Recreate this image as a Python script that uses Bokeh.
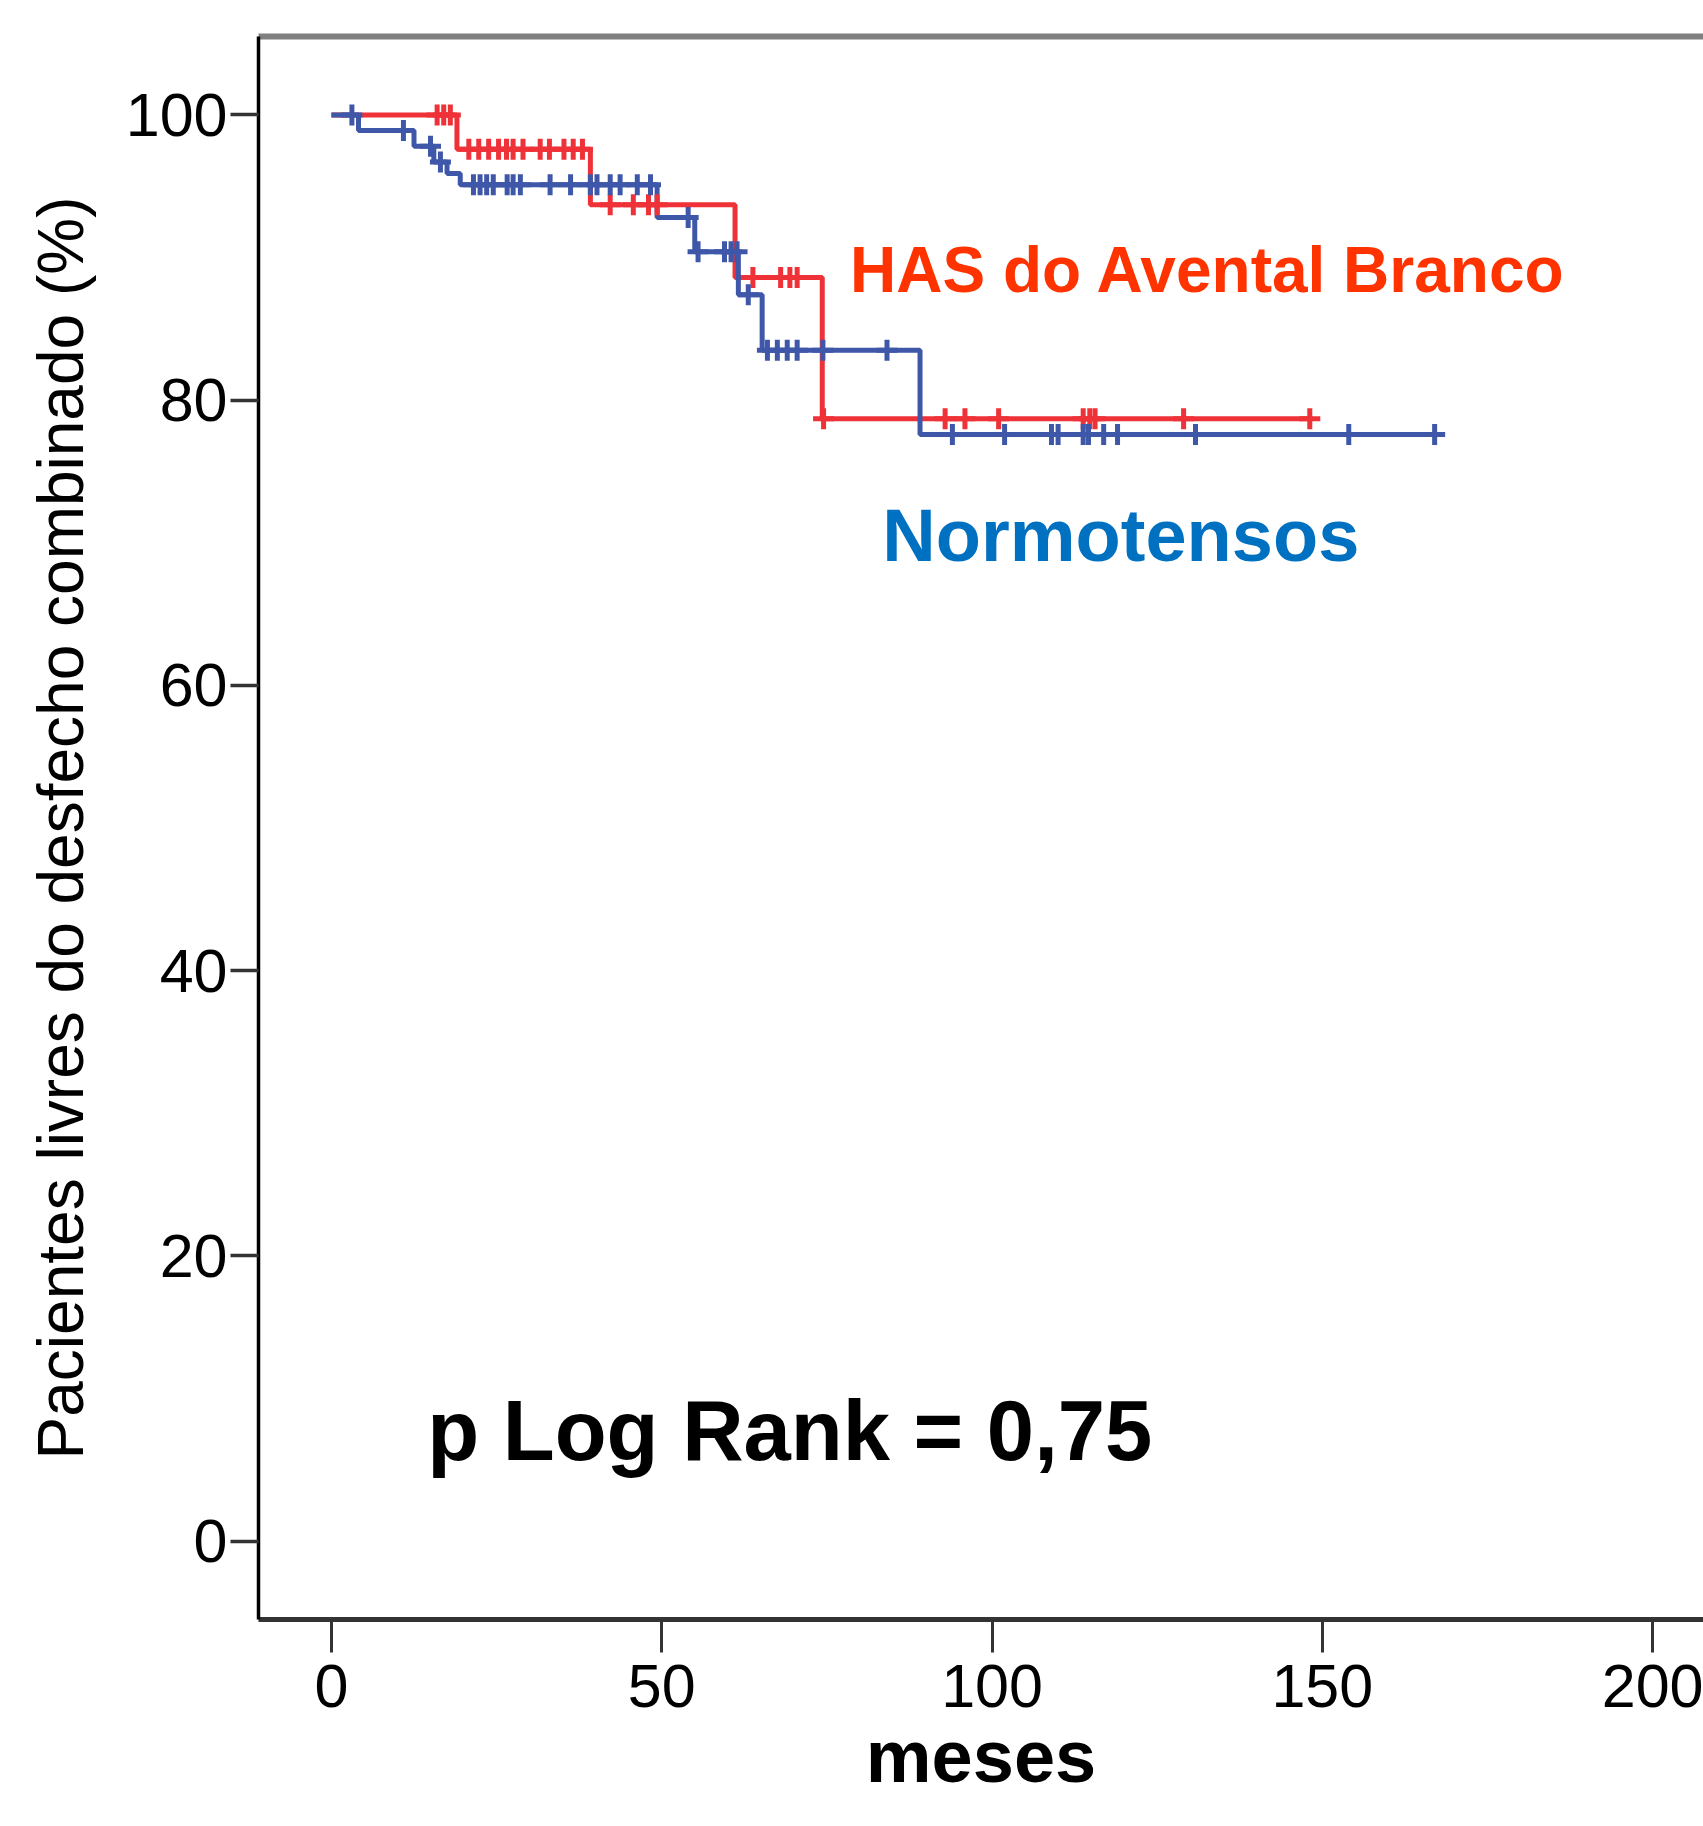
import numpy as np
from bokeh.plotting import figure
from bokeh.models import Range1d, FixedTicker, LinearAxis, Label, ColumnDataSource
from bokeh.embed import file_html
from bokeh.resources import INLINE

# ---------------- data ----------------
x_ticks = [0, 50, 100, 150, 200]
y_ticks = [0, 20, 40, 60, 80, 100]

# HAS do Avental Branco (red)
red_event_times = [0.0, 19.0, 39.2, 61.1, 74.3]
red_survival = [100.0, 97.6, 93.7, 88.6, 78.7]
red_end_time = 148.5
red_censor_times = [16.0, 17.0, 18.0,
                    20.8, 22.3, 23.8, 25.3, 26.5, 27.5, 29.0, 31.6, 33.0, 35.2, 36.6, 38.0,
                    42.2, 45.7, 48.0, 49.3,
                    63.8, 68.0, 69.4, 70.5,
                    74.5, 92.9, 95.9, 101.0, 113.8, 114.8, 115.6, 129.0, 148.1]

# Normotensos (blue)
blue_event_times = [0.0, 4.1, 12.5, 15.5, 17.5, 19.5, 49.3, 55.0, 61.6, 65.2, 89.1]
blue_survival = [100.0, 98.9, 97.8, 96.7, 95.9, 95.1, 92.8, 90.4, 87.4, 83.5, 77.6]
blue_end_time = 168.5
blue_censor_times = [3.1, 10.9, 15.0, 16.5,
                     21.5, 22.5, 23.5, 24.5, 26.6, 27.5, 28.6, 33.1, 36.2, 39.2, 40.2,
                     42.2, 43.7, 46.3, 48.3,
                     54.0, 55.5, 59.5, 60.5, 61.4, 63.1,
                     66.0, 67.5, 69.0, 70.5, 74.4, 84.1,
                     94.0, 101.9, 109.0, 110.0, 113.8, 114.6, 116.9, 119.0, 130.8, 154.0, 167.0]

RED = "#EE3238"
BLUE = "#3F57A8"
FONT = "Liberation Sans"


def level_at(times, levels, t):
    i = int(np.searchsorted(np.asarray(times), t, side="right")) - 1
    return levels[max(i, 0)]


p = figure(width=1703, height=1826, output_backend="svg", toolbar_location=None,
           x_range=Range1d(-11.04, 207.7), y_range=Range1d(-5.5, 105.5),
           min_border_left=258, min_border_right=0, min_border_top=36, min_border_bottom=207,
           x_axis_type=None, y_axis_type=None)
p.grid.visible = False
p.outline_line_color = None
p.background_fill_color = "white"
p.border_fill_color = "white"

# axes
xax = LinearAxis(ticker=FixedTicker(ticks=x_ticks))
xax.axis_line_color = "#333333"
xax.axis_line_width = 5
xax.major_tick_line_color = "#333333"
xax.major_tick_line_width = 3
xax.major_tick_out = 33
xax.major_tick_in = 0
xax.minor_tick_line_color = None
xax.major_label_standoff = 12
xax.major_label_text_font = FONT
xax.major_label_text_font_size = "61px"
xax.major_label_text_color = "black"
xax.axis_label = "meses"
xax.axis_label_text_font = FONT
xax.axis_label_text_font_size = "74px"
xax.axis_label_text_font_style = "bold"
xax.axis_label_text_color = "black"
xax.axis_label_standoff = 5
p.add_layout(xax, "below")

yax = LinearAxis(ticker=FixedTicker(ticks=y_ticks))
yax.axis_line_color = "black"
yax.axis_line_width = 3.5
yax.major_tick_line_color = "#333333"
yax.major_tick_line_width = 3.5
yax.major_tick_out = 28
yax.major_tick_in = 0
yax.minor_tick_line_color = None
yax.major_label_standoff = 3
yax.major_label_text_font = FONT
yax.major_label_text_font_size = "61px"
yax.major_label_text_color = "black"
yax.axis_label = "Pacientes livres do desfecho combinado (%)"
yax.axis_label_text_font = FONT
yax.axis_label_text_font_size = "64px"
yax.axis_label_text_font_style = "normal"
yax.axis_label_text_color = "black"
yax.axis_label_standoff = 26
p.add_layout(yax, "left")

top = LinearAxis(ticker=FixedTicker(ticks=[]))
top.axis_line_color = "#808080"
top.axis_line_width = 6
top.major_tick_line_color = None
top.minor_tick_line_color = None
top.major_label_text_font_size = "0px"
p.add_layout(top, "above")

# curves
red_x = red_event_times + [red_end_time]
red_y = red_survival + [red_survival[-1]]
blue_x = blue_event_times + [blue_end_time]
blue_y = blue_survival + [blue_survival[-1]]

p.step(x=red_x, y=red_y, mode="after", line_color=RED, line_width=5)
p.step(x=blue_x, y=blue_y, mode="after", line_color=BLUE, line_width=5)

red_cens = ColumnDataSource(dict(x=red_censor_times,
                                 y=[level_at(red_event_times, red_survival, t) for t in red_censor_times]))
blue_cens = ColumnDataSource(dict(x=blue_censor_times,
                                  y=[level_at(blue_event_times, blue_survival, t) for t in blue_censor_times]))
p.scatter(x="x", y="y", source=red_cens, marker="cross", size=21, line_color=RED, line_width=5)
p.scatter(x="x", y="y", source=blue_cens, marker="cross", size=21, line_color=BLUE, line_width=5)

# annotations
p.add_layout(Label(x=78.5, y=89.15, text="HAS do Avental Branco", text_font=FONT,
                   text_font_size="64px", text_font_style="bold", text_color="#FF3300",
                   text_baseline="alphabetic", text_align="left"))
p.add_layout(Label(x=83.4, y=70.5, text="Normotensos", text_font=FONT,
                   text_font_size="74px", text_font_style="bold", text_color="#0070C0",
                   text_baseline="alphabetic", text_align="left"))
p.add_layout(Label(x=14.5, y=7.75, text="p Log Rank = 0,75", text_font=FONT,
                   text_font_size="85px", text_font_style="bold", text_color="black",
                   text_baseline="alphabetic", text_align="left"))

open("out.html", "w").write(file_html(p, INLINE))
